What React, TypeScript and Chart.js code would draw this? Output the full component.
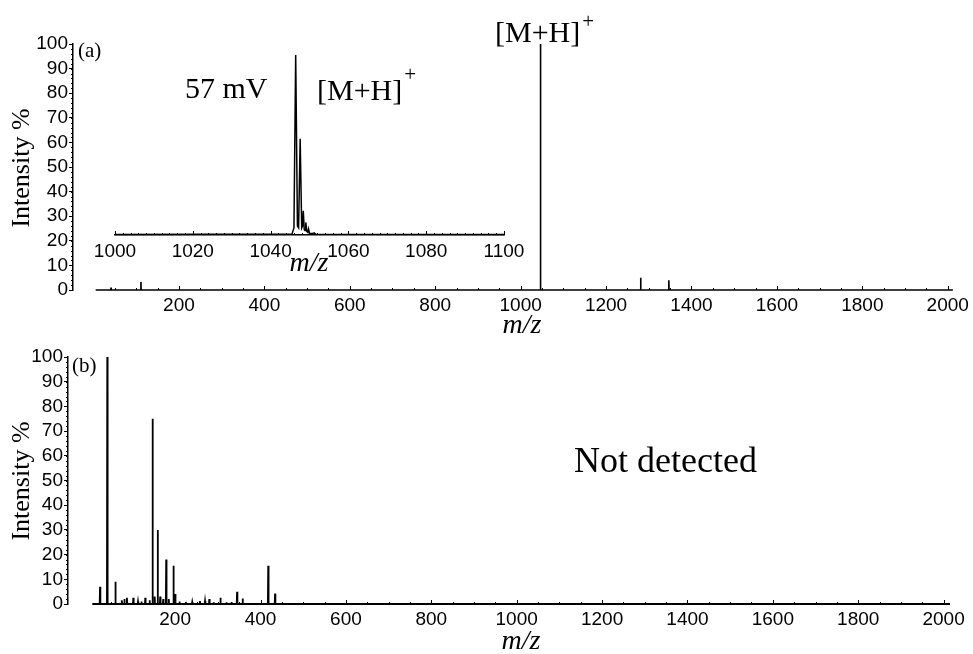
import React, { useEffect, useRef } from "react";
import { Chart, registerables } from "chart.js";

Chart.register(...registerables);

// ---------------- data ----------------
const xTickValues = [200, 400, 600, 800, 1000, 1200, 1400, 1600, 1800, 2000];
const yTickValues = [0, 10, 20, 30, 40, 50, 60, 70, 80, 90, 100];
const insetTickValues = [1000, 1020, 1040, 1060, 1080, 1100];

// Panel (a): full scan, peaks (m/z, intensity %)
const rangeA = [5, 2012];
const peaksAMz = [41, 111, 1046, 1047, 1281, 1347];
const peaksAInt = [1, 3.3, 100, 13, 5, 4];

// Panel (a) inset: profile of the [M+H]+ isotope cluster
const insetMz = [1000, 1045.5, 1046.0, 1046.45, 1046.9, 1047.2, 1047.6, 1048.0, 1048.2, 1048.4, 1048.65, 1048.85, 1049.05, 1049.3, 1049.55, 1049.75, 1050.0, 1050.8, 1051.2, 1051.6, 1100];
const insetInt = [0.3, 0.5, 4, 100, 5, 4, 53.5, 4, 5, 13.5, 3, 2.5, 7, 2, 1.5, 3.4, 1, 0.8, 1.2, 0.4, 0.3];

// Panel (b): full scan, peaks (m/z, intensity %)
const rangeB = [6, 2015];
const peaksBMz = [24, 41, 60, 75, 81, 87, 102, 113, 121, 130, 140, 147, 152, 159, 165, 172, 179, 185, 196, 200, 210, 225, 240, 258, 270, 280, 290, 306, 320, 332, 345, 358, 418, 434];
const peaksBInt = [7, 100, 9, 1.5, 2, 2.5, 2.5, 1, 1, 2.5, 1.5, 75, 3, 30, 3, 2, 18, 2, 15.5, 4, 1, 0.8, 0.8, 1.2, 1.2, 2, 0.7, 2.5, 0.7, 0.8, 5, 2.2, 15.5, 4.2];

// ---------------- helpers ----------------
function sticks(range: number[], mz: number[], inten: number[], hw: number) {
  const pts: { x: number; y: number }[] = [{ x: range[0], y: 0 }];
  mz.forEach((m, i) => {
    pts.push({ x: m - hw, y: 0 }, { x: m, y: inten[i] }, { x: m + hw, y: 0 });
  });
  pts.push({ x: range[1], y: 0 });
  return pts;
}

const SANS = '"Liberation Sans", Arial, sans-serif';
const SERIF = '"Liberation Serif", "Times New Roman", serif';

const axisMarks = {
  id: "axisMarks",
  afterDraw(chart: any, _a: any, o: any) {
    if (!o || !o.enabled) return;
    const ctx = chart.ctx;
    const area = chart.chartArea;
    const xs = chart.scales.x;
    const ys = chart.scales.y;
    ctx.save();
    ctx.strokeStyle = "#000";
    ctx.lineWidth = 1;
    ctx.beginPath();
    if (o.yStep && ys) {
      const n = Math.round((ys.max - ys.min) / o.yStep);
      for (let i = 0; i <= n; i++) {
        const v = ys.min + i * o.yStep;
        const p = Math.round(ys.getPixelForValue(v)) + 0.5;
        ctx.moveTo(area.left - o.yLen, p);
        ctx.lineTo(area.left, p);
      }
    }
    if (o.xStep && xs) {
      const n = Math.round((o.xTo - o.xFrom) / o.xStep);
      for (let i = 0; i <= n; i++) {
        const v = o.xFrom + i * o.xStep;
        const p = Math.round(xs.getPixelForValue(v)) + 0.5;
        const major = Math.abs(v % o.xMajor) < 1e-6;
        const len = major ? o.xMajorLen : o.xLen;
        ctx.moveTo(p, area.bottom);
        ctx.lineTo(p, area.bottom - len);
      }
    }
    ctx.stroke();
    ctx.restore();
  },
};

const texts = {
  id: "texts",
  afterDraw(chart: any, _a: any, o: any) {
    if (!o || !o.items) return;
    const ctx = chart.ctx;
    const ox = o.offsetX || 0;
    const oy = o.offsetY || 0;
    ctx.save();
    ctx.fillStyle = "#000";
    for (const it of o.items) {
      ctx.font = it.font;
      ctx.textAlign = it.align || "left";
      ctx.textBaseline = it.baseline || "alphabetic";
      const x = it.x - ox;
      const y = it.y - oy;
      if (it.rotate) {
        ctx.save();
        ctx.translate(x, y);
        ctx.rotate(-Math.PI / 2);
        ctx.textAlign = "center";
        ctx.textBaseline = "middle";
        ctx.fillText(it.text, 0, 0);
        ctx.restore();
        continue;
      }
      ctx.fillText(it.text, x, y);
      if (it.sup) {
        const w = ctx.measureText(it.text).width;
        ctx.font = it.supFont;
        ctx.textAlign = "left";
        ctx.fillText(it.sup, x + w + 2, y + it.supDy);
      }
    }
    ctx.restore();
  },
};

Chart.register(axisMarks as any, texts as any);

function mainConfig(p: {
  points: any[];
  xmin: number;
  xmax: number;
  top: number;
  right: number;
  yWidth: number;
  xHeight: number;
  lineWidth: number;
  texts: any;
}) {
  return {
    type: "line",
    data: {
      datasets: [
        {
          data: p.points,
          borderColor: "#000",
          borderWidth: p.lineWidth,
          pointRadius: 0,
          tension: 0,
          fill: false,
          clip: false,
        },
      ],
    },
    options: {
      responsive: false,
      animation: false,
      devicePixelRatio: 1,
      layout: { padding: { left: 0, right: p.right, top: p.top, bottom: 0 } },
      plugins: {
        legend: { display: false },
        tooltip: { enabled: false },
        axisMarks: {
          enabled: true,
          yStep: 2,
          yLen: 2,
          xFrom: 50,
          xTo: 2000,
          xStep: 50,
          xMajor: 200,
          xLen: 2,
          xMajorLen: 4,
        },
        texts: p.texts,
      },
      scales: {
        x: {
          type: "linear",
          min: p.xmin,
          max: p.xmax,
          afterBuildTicks: (s: any) => {
            s.ticks = xTickValues.map((v) => ({ value: v }));
          },
          afterFit: (s: any) => {
            s.height = p.xHeight;
          },
          grid: { display: false, drawTicks: false },
          border: { display: false },
          ticks: {
            color: "#000",
            font: { family: SANS, size: 19 },
            padding: 4,
            maxRotation: 0,
            autoSkip: false,
            callback: (v: any) => String(v),
          },
        },
        y: {
          type: "linear",
          min: 0,
          max: 100,
          afterBuildTicks: (s: any) => {
            s.ticks = yTickValues.map((v) => ({ value: v }));
          },
          afterFit: (s: any) => {
            s.width = p.yWidth;
          },
          grid: {
            drawOnChartArea: false,
            drawTicks: true,
            tickLength: 4,
            tickColor: "#000",
            tickWidth: 1,
          },
          border: { display: true, color: "#000", width: 1.5 },
          ticks: {
            color: "#000",
            font: { family: SANS, size: 19 },
            padding: 1,
            autoSkip: false,
            callback: (v: any) => String(v),
          },
        },
      },
    },
  };
}

function insetConfig() {
  const points = insetMz.map((m, i) => ({ x: m, y: insetInt[i] }));
  return {
    type: "line",
    data: {
      datasets: [
        {
          data: points,
          borderColor: "#000",
          borderWidth: 1.5,
          pointRadius: 0,
          tension: 0,
          fill: false,
          clip: false,
        },
      ],
    },
    options: {
      responsive: false,
      animation: false,
      devicePixelRatio: 1,
      layout: { padding: { left: 35, right: 46, top: 15, bottom: 0 } },
      plugins: {
        legend: { display: false },
        tooltip: { enabled: false },
        axisMarks: {
          enabled: true,
          xFrom: 1000,
          xTo: 1100,
          xStep: 2,
          xMajor: 20,
          xLen: 2,
          xMajorLen: 4,
        },
        texts: {
          offsetX: 80,
          offsetY: 40,
          items: [
            { text: "57 mV", x: 185, y: 98, font: `30px ${SERIF}` },
            {
              text: "[M+H]",
              x: 317,
              y: 100,
              font: `30px ${SERIF}`,
              sup: "+",
              supFont: `21px ${SERIF}`,
              supDy: -19,
            },
            {
              text: "m/z",
              x: 309,
              y: 264,
              font: `italic 28px ${SERIF}`,
              align: "center",
              baseline: "middle",
            },
          ],
        },
      },
      scales: {
        x: {
          type: "linear",
          min: 1000,
          max: 1100,
          afterBuildTicks: (s: any) => {
            s.ticks = insetTickValues.map((v) => ({ value: v }));
          },
          afterFit: (s: any) => {
            s.height = 45;
          },
          grid: { display: false, drawTicks: false },
          border: { display: true, color: "#000", width: 1.5 },
          ticks: {
            color: "#000",
            font: { family: SANS, size: 19 },
            padding: 5,
            maxRotation: 0,
            autoSkip: false,
            callback: (v: any) => String(v),
          },
        },
        y: { display: false, min: 0, max: 100 },
      },
    },
  };
}

export default function App() {
  const aRef = useRef<HTMLCanvasElement>(null);
  const insetRef = useRef<HTMLCanvasElement>(null);
  const bRef = useRef<HTMLCanvasElement>(null);

  useEffect(() => {
    Chart.defaults.font.family = SANS;
    const cfgA = mainConfig({
      points: sticks(rangeA, peaksAMz, peaksAInt, 0.5),
      xmin: -48,
      xmax: 2012,
      top: 44,
      right: 20,
      yWidth: 73,
      xHeight: 345 - 290,
      lineWidth: 1.6,
      texts: {
        offsetX: 0,
        offsetY: 0,
        items: [
          { text: "(a)", x: 78, y: 57, font: `21px ${SERIF}` },
          {
            text: "[M+H]",
            x: 495,
            y: 42,
            font: `30px ${SERIF}`,
            sup: "+",
            supFont: `21px ${SERIF}`,
            supDy: -14,
          },
          { text: "Intensity %", x: 22, y: 168, font: `26px ${SERIF}`, rotate: true },
          {
            text: "m/z",
            x: 522,
            y: 326,
            font: `italic 28px ${SERIF}`,
            align: "center",
            baseline: "middle",
          },
        ],
      },
    });
    const cfgB = mainConfig({
      points: sticks(rangeB, peaksBMz, peaksBInt, 0.8),
      xmin: -51,
      xmax: 2015,
      top: 357 - 330,
      right: 23,
      yWidth: 68,
      xHeight: 654 - 604,
      lineWidth: 1.8,
      texts: {
        offsetX: 0,
        offsetY: 330,
        items: [
          { text: "(b)", x: 72, y: 372, font: `21px ${SERIF}` },
          { text: "Intensity %", x: 22, y: 481, font: `26px ${SERIF}`, rotate: true },
          { text: "Not detected", x: 574, y: 472, font: `36px ${SERIF}` },
          {
            text: "m/z",
            x: 521,
            y: 642,
            font: `italic 28px ${SERIF}`,
            align: "center",
            baseline: "middle",
          },
        ],
      },
    });
    const charts = [
      new Chart(aRef.current as HTMLCanvasElement, cfgA as any),
      new Chart(insetRef.current as HTMLCanvasElement, insetConfig() as any),
      new Chart(bRef.current as HTMLCanvasElement, cfgB as any),
    ];
    return () => charts.forEach((c) => c.destroy());
  }, []);

  return (
    <div
      style={{
        position: "fixed",
        left: 0,
        top: 0,
        width: 973,
        height: 654,
        background: "#fff",
        overflow: "hidden",
      }}
    >
      <canvas ref={aRef} width={973} height={345} style={{ position: "absolute", left: 0, top: 0 }} />
      <canvas ref={bRef} width={973} height={324} style={{ position: "absolute", left: 0, top: 330 }} />
      <canvas ref={insetRef} width={470} height={240} style={{ position: "absolute", left: 80, top: 40 }} />
    </div>
  );
}
